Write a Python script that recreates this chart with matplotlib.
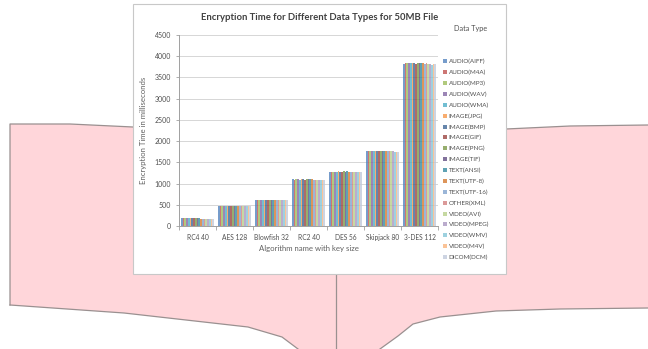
import numpy as np
import matplotlib
matplotlib.use('Agg')
import matplotlib.pyplot as plt
from matplotlib.patches import Polygon, Rectangle
from matplotlib.lines import Line2D

plt.rcParams['font.family'] = ['Lato', 'DejaVu Sans']

W, H = 648, 349

algorithms = ['RC4 40', 'AES 128', 'Blowfish 32', 'RC2 40', 'DES 56', 'Skipjack 80', '3-DES 112']

data_types = ['AUDIO(AIFF)', 'AUDIO(M4A)', 'AUDIO(MP3)', 'AUDIO(WAV)', 'AUDIO(WMA)',
              'IMAGE(JPG)', 'IMAGE(BMP)', 'IMAGE(GIF)', 'IMAGE(PNG)', 'IMAGE(TIF)',
              'TEXT(ANSI)', 'TEXT(UTF-8)', 'TEXT(UTF-16)', 'OTHER(XML)',
              'VIDEO(AVI)', 'VIDEO(MPEG)', 'VIDEO(WMV)', 'VIDEO(M4V)', 'DICOM(DCM)']

# encryption time (ms) per algorithm, one list per data type
audio_aiff = [182, 478, 612, 1098, 1280, 1772, 3826]
audio_m4a = [178, 476, 615, 1095, 1283, 1770, 3832]
audio_mp3 = [184, 480, 610, 1100, 1278, 1768, 3829]
audio_wav = [180, 475, 613, 1097, 1284, 1771, 3835]
audio_wma = [183, 479, 611, 1094, 1279, 1769, 3830]
image_jpg = [185, 477, 616, 1102, 1286, 1773, 3838]
image_bmp = [181, 481, 612, 1099, 1281, 1770, 3833]
image_gif = [179, 476, 609, 1093, 1277, 1767, 3827]
image_png = [186, 482, 617, 1104, 1288, 1774, 3840]
image_tif = [180, 478, 614, 1100, 1282, 1771, 3848]
text_ansi = [182, 475, 612, 1106, 1285, 1772, 3836]
text_utf8 = [172, 470, 608, 1096, 1276, 1766, 3829]
text_utf16 = [170, 468, 606, 1094, 1274, 1764, 3822]
other_xml = [171, 469, 607, 1095, 1275, 1762, 3830]
video_avi = [169, 467, 605, 1092, 1273, 1760, 3815]
video_mpeg = [170, 468, 606, 1093, 1274, 1758, 3818]
video_wmv = [168, 466, 604, 1091, 1272, 1755, 3800]
video_m4v = [169, 467, 605, 1092, 1273, 1752, 3820]
dicom_dcm = [170, 468, 606, 1093, 1274, 1750, 3812]

series = [audio_aiff, audio_m4a, audio_mp3, audio_wav, audio_wma,
          image_jpg, image_bmp, image_gif, image_png, image_tif,
          text_ansi, text_utf8, text_utf16, other_xml,
          video_avi, video_mpeg, video_wmv, video_m4v, dicom_dcm]

colors = ['#4F81BD', '#C0504D', '#9BBB59', '#8064A2', '#4BACC6', '#F79646',
          '#3C6494', '#99413E', '#7A9845', '#5F4B80', '#31889F', '#D4772B',
          '#7FA2CE', '#D27E7C', '#B6CF88', '#A895C0', '#83C4D6', '#F9B27A',
          '#BFC9DA']


def px(x, y):
    # pixel coords (origin top-left) -> figure fraction
    return (x / W, 1 - y / H)


fig = plt.figure(figsize=(W / 100, H / 100), dpi=100)

# pink "book" background
book = [(10, 124), (70, 124), (133, 127), (336, 131), (506, 129), (570, 126), (648, 125),
        (648, 308), (560, 309), (496, 311), (440, 317), (413, 324), (398, 336), (380, 349),
        (298, 349), (282, 337), (248, 327), (124, 313), (10, 305)]
fig.patches.append(Polygon([px(*p) for p in book], closed=True, transform=fig.transFigure,
                           facecolor='#FFD6DA', edgecolor='none', zorder=-3))
edges = [[(10, 305), (10, 124), (70, 124), (133, 127)],
         [(506, 129), (570, 126), (648, 125)],
         [(10, 305), (124, 313), (248, 327), (282, 337), (298, 349)],
         [(648, 308), (560, 309), (496, 311), (440, 317), (413, 324), (398, 336), (380, 349)],
         [(336, 274), (336, 349)]]
for e in edges:
    xs, ys = zip(*[px(*p) for p in e])
    fig.lines.append(Line2D(xs, ys, transform=fig.transFigure, color='#9A9090', lw=0.9, zorder=-2))

# white chart box
x0, y0 = px(133, 274)
x1, y1 = px(506, 4)
fig.patches.append(Rectangle((x0, y0), x1 - x0, y1 - y0, transform=fig.transFigure,
                             facecolor='white', edgecolor='#C8C8C8', lw=0.8, zorder=-1))

ax = fig.add_axes([179 / W, 1 - 226 / H, (438 - 179) / W, (226 - 35) / H])
ax.set_facecolor('none')

n = len(series)
group = 0.9
bw = group / n
x = np.arange(len(algorithms))
for i, vals in enumerate(series):
    ax.bar(x - group / 2 + bw * (i + 0.5), vals, width=bw, color=colors[i], alpha=0.78,
           label=data_types[i], linewidth=0, zorder=3)

ax.set_xlim(-0.5, len(algorithms) - 0.5)
ax.set_ylim(0, 4500)
ax.set_yticks(np.arange(0, 4501, 500))
ax.yaxis.grid(True, color='#D0D0D0', lw=0.6, zorder=0)
ax.set_axisbelow(True)
for s in ['top', 'right']:
    ax.spines[s].set_visible(False)
for s in ['left', 'bottom']:
    ax.spines[s].set_color('#A0A0A0')
    ax.spines[s].set_linewidth(0.7)
ax.set_xticks(x)
ax.set_xticklabels(algorithms)
ax.set_xticks(np.arange(-0.5, len(algorithms), 1), minor=True)
ax.tick_params(axis='x', which='major', length=0, pad=6, labelsize=4.8, labelcolor='#505050')
ax.tick_params(axis='x', which='minor', length=3, color='#A0A0A0', width=0.6)
ax.tick_params(axis='y', length=2.5, color='#A0A0A0', width=0.6, pad=3, labelsize=5,
               labelcolor='#505050')

ax.set_ylabel('Encryption Time in milliseconds', fontsize=5.6, color='#606060', labelpad=6)
ax.set_xlabel('Algorithm name with key size', fontsize=5.6, color='#606060', labelpad=3)

fig.text(*px(320, 17), 'Encryption Time for Different Data Types for 50MB File',
         ha='center', va='center', fontsize=6.8, fontweight='bold', color='#404040')
fig.text(*px(454, 28), 'Data Type', ha='left', va='center', fontsize=5.2, color='#505050')

leg = ax.legend(loc='upper left', bbox_to_anchor=px(440, 56), bbox_transform=fig.transFigure,
                frameon=False, fontsize=4.5, handlelength=0.6, handleheight=0.6,
                handletextpad=0.3, labelspacing=0.88, borderpad=0)
for t in leg.get_texts():
    t.set_color('#505050')

fig.savefig('out.png', dpi=100)
